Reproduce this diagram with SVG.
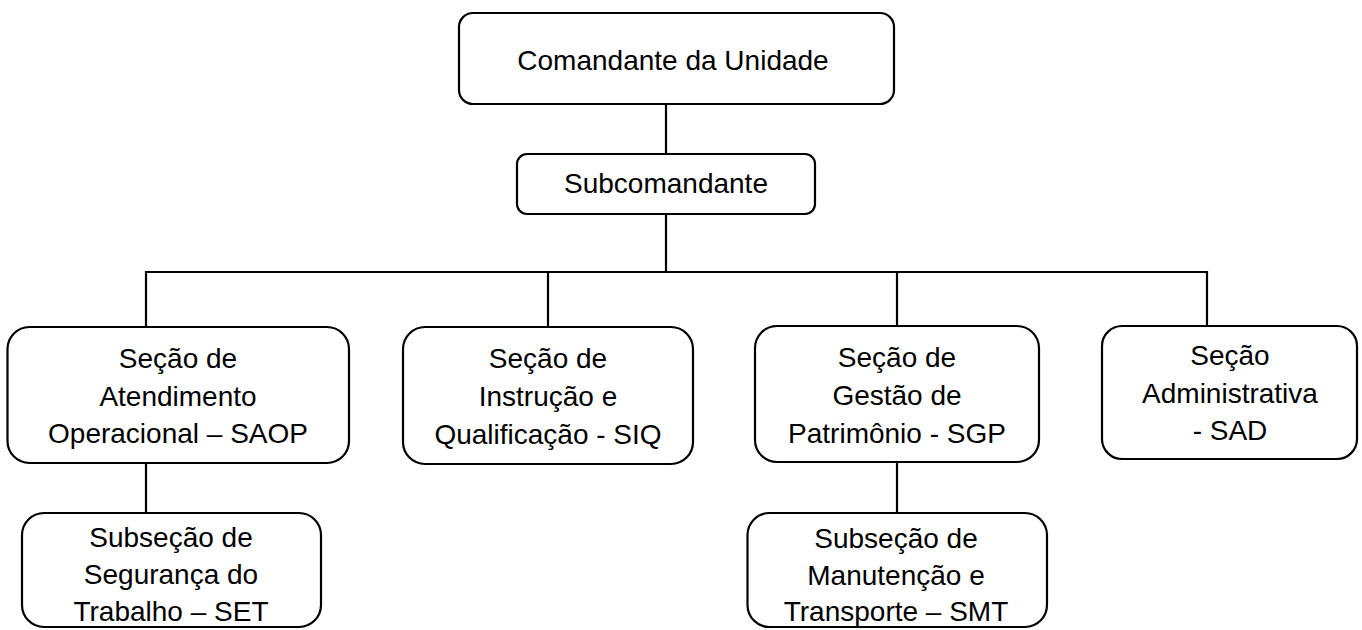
<svg xmlns="http://www.w3.org/2000/svg" width="1362" height="630" viewBox="0 0 1362 630">
<style>
.box{fill:#fff;stroke:#000;stroke-width:2.2}
.c{fill:none;stroke:#000;stroke-width:2.2}
text{font-family:"Liberation Sans",Arial,sans-serif;font-size:28px;fill:#000;text-anchor:middle}
</style>
<rect width="1362" height="630" fill="#fff"/>
<g id="connectors">
<line class="c" x1="666" y1="104" x2="666" y2="154"/>
<line class="c" x1="666" y1="214" x2="666" y2="272"/>
<line class="c" x1="145" y1="272" x2="1208" y2="272"/>
<line class="c" x1="146" y1="271" x2="146" y2="327"/>
<line class="c" x1="548" y1="271" x2="548" y2="327"/>
<line class="c" x1="897" y1="271" x2="897" y2="326"/>
<line class="c" x1="1207" y1="271" x2="1207" y2="326"/>
<line class="c" x1="146" y1="463" x2="146" y2="513"/>
<line class="c" x1="897" y1="462" x2="897" y2="513"/>
</g>
<g id="comandante">
<rect class="box" x="459" y="13" width="435" height="91" rx="14"/>
<text x="673" y="70">Comandante da Unidade</text>
</g>
<g id="subcomandante">
<rect class="box" x="517" y="154" width="298" height="60" rx="10"/>
<text x="666" y="193">Subcomandante</text>
</g>
<g id="saop">
<rect class="box" x="7.5" y="327" width="341.5" height="136" rx="22"/>
<text x="178" y="368">Seção de</text>
<text x="178" y="406">Atendimento</text>
<text x="178" y="443">Operacional – SAOP</text>
</g>
<g id="siq">
<rect class="box" x="403" y="327" width="290" height="137" rx="22"/>
<text x="548" y="368">Seção de</text>
<text x="548" y="406">Instrução e</text>
<text x="548" y="444">Qualificação - SIQ</text>
</g>
<g id="sgp">
<rect class="box" x="755" y="326" width="284" height="136" rx="22"/>
<text x="897" y="367">Seção de</text>
<text x="897" y="405">Gestão de</text>
<text x="897" y="443">Patrimônio - SGP</text>
</g>
<g id="sad">
<rect class="box" x="1102" y="326" width="255" height="133" rx="20"/>
<text x="1230" y="365">Seção</text>
<text x="1230" y="403">Administrativa</text>
<text x="1230" y="440">- SAD</text>
</g>
<g id="set">
<rect class="box" x="22" y="513" width="299" height="114" rx="22"/>
<text x="171" y="547">Subseção de</text>
<text x="171" y="584">Segurança do</text>
<text x="171" y="621">Trabalho – SET</text>
</g>
<g id="smt">
<rect class="box" x="747.5" y="513" width="299.5" height="114" rx="22"/>
<text x="896" y="548">Subseção de</text>
<text x="896" y="585">Manutenção e</text>
<text x="896" y="621">Transporte – SMT</text>
</g>
</svg>
